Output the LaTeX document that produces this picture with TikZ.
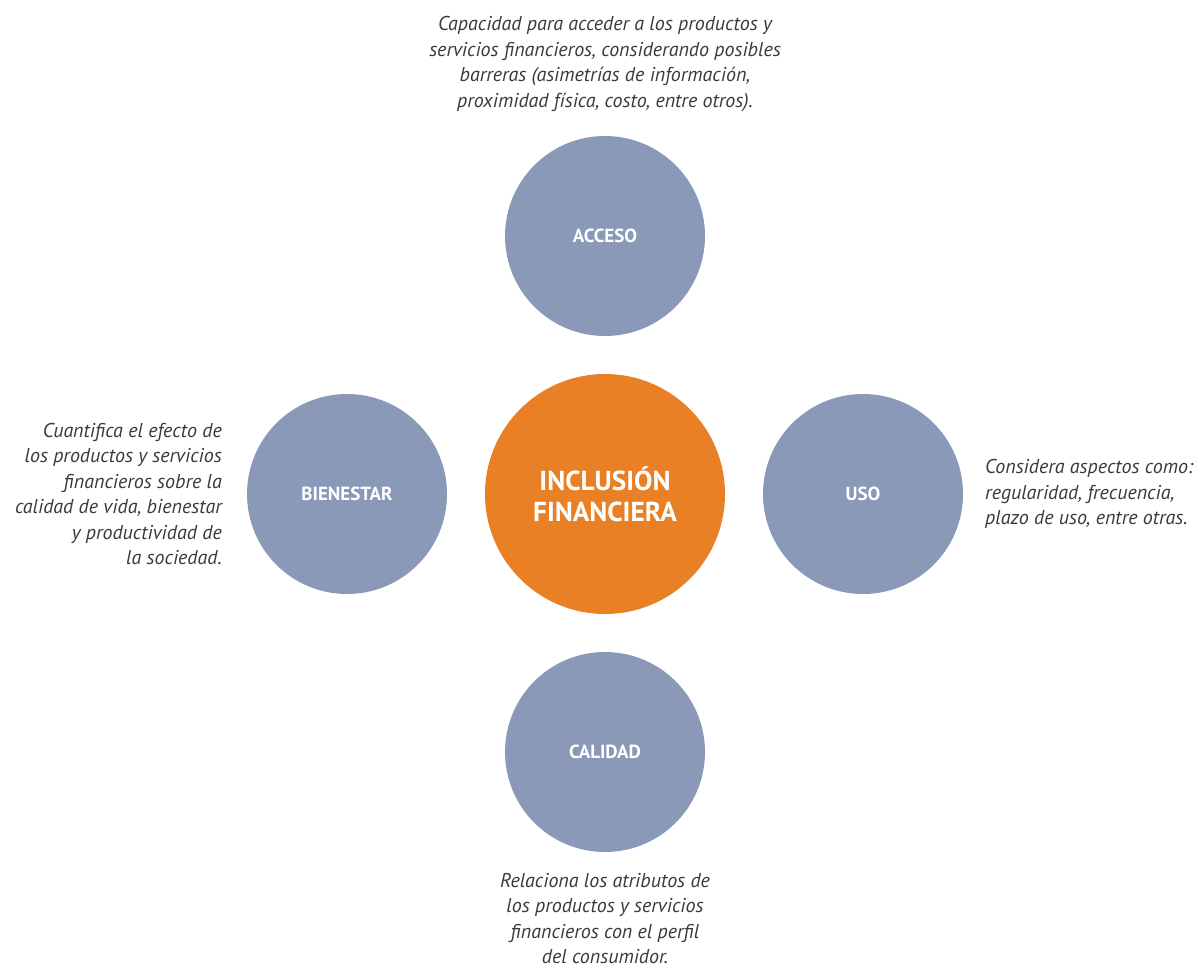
\documentclass[tikz,border=0pt]{standalone}
\usepackage{fontspec}
\usepackage{tikz}
\usetikzlibrary{positioning}
\newfontfamily\descfont{PT Sans}
\definecolor{pilar}{HTML}{8A99B7}
\definecolor{naranja}{HTML}{E98026}
\definecolor{texto}{HTML}{3A3A3A}
\tikzset{
  pilar/.style={circle, fill=pilar, inner sep=0pt, outer sep=0pt, minimum size=200pt, text=white, font=\descfont\bfseries\fontsize{19}{22}\selectfont},
  centro/.style={circle, fill=naranja, inner sep=0pt, outer sep=0pt, minimum size=240pt, text=white, align=center, font=\descfont\bfseries\fontsize{27.4}{31}\selectfont},
  desc/.style={text=texto, inner sep=0pt, font=\descfont\itshape\fontsize{20}{25.5}\selectfont}
}
\begin{document}
\begin{tikzpicture}[x=1pt, y=-1pt, node distance=38pt]
\useasboundingbox (0,0) rectangle (1196,969);
% nodes
\node[centro] (incl) at (605,494) {INCLUSIÓN\\FINANCIERA};
\node[pilar, above=of incl] (acceso) {ACCESO};
\node[pilar, left=of incl] (bienestar) {BIENESTAR};
\node[pilar, right=of incl] (uso) {USO};
\node[pilar, below=of incl] (calidad) {CALIDAD};
% descripciones
\node[desc, align=center, above=24pt of acceso] (dacceso) {Capacidad para acceder a los productos y\\servicios financieros, considerando posibles\\barreras (asimetrías de información,\\proximidad física, costo, entre otros).};
\node[desc, align=right, left=25pt of bienestar] (dbienestar) {Cuantifica el efecto de\\los productos y servicios\\financieros sobre la\\calidad de vida, bienestar\\y productividad de\\la sociedad.};
\node[desc, align=left, right=22pt of uso] (duso) {Considera aspectos como:\\regularidad, frecuencia,\\plazo de uso, entre otras.};
\node[desc, align=center, below=21pt of calidad] (dcalidad) {Relaciona los atributos de\\los productos y servicios\\financieros con el perfil\\del consumidor.};
\end{tikzpicture}
\end{document}
